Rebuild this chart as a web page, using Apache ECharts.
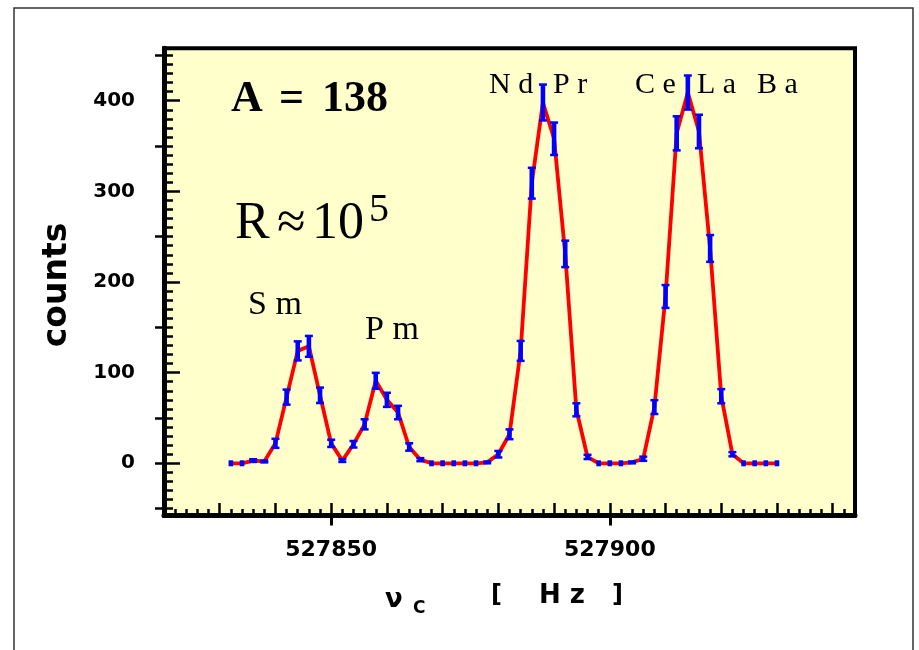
<!DOCTYPE html>
<html>
<head>
<meta charset="utf-8">
<script src="https://cdn.jsdelivr.net/npm/echarts@6/dist/echarts.min.js"></script>
<style>
html, body { margin: 0; padding: 0; background: #fff; }
#chart { width: 919px; height: 650px; }
</style>
</head>
<body>
<div id="chart"></div>
<script>
// scan of the cyclotron frequency, A = 138
const freqHz = [
  527832, 527834, 527836, 527838, 527840, 527842, 527844, 527846, 527848, 527850,
  527852, 527854, 527856, 527858, 527860, 527862, 527864, 527866, 527868, 527870,
  527872, 527874, 527876, 527878, 527880, 527882, 527884, 527886, 527888, 527890,
  527892, 527894, 527896, 527898, 527900, 527902, 527904, 527906, 527908, 527910,
  527912, 527914, 527916, 527918, 527920, 527922, 527924, 527926, 527928, 527930
]
const counts = [
  0, 0, 3, 2, 22, 73, 124, 129, 75, 22,
  3, 21, 43, 91, 70, 56, 18, 4, 0, 0,
  0, 0, 0, 1, 10, 32, 124, 309, 398, 358,
  231, 59, 7, 0, 0, 0, 1, 5, 62, 184,
  364, 409, 366, 237, 74, 10, 0, 0, 0, 0
]
const countErr = [
  0, 0, 1.5, 1, 5, 8.3, 10.5, 11.5, 8.5, 4,
  1.5, 3.6, 5.6, 8.8, 7.8, 7.4, 4.1, 1.7, 0, 0,
  0, 0, 0, 1, 3.6, 5.4, 11, 17, 19.8, 17.9,
  14.6, 7.2, 2.3, 0, 0, 0, 1, 2.3, 7.6, 12.6,
  18.8, 18.8, 18.5, 14.8, 7.8, 2.3, 0, 0, 0, 0
]
const xLabelTicks = [527850, 527900]
const yLabelTicks = [0, 100, 200, 300, 400]
const yOuterTicks = [-50, 0, 50, 150, 250, 350, 450]

const X_MIN = 527820
const X_MAX = 527944
const Y_MIN = -57.6
const Y_MAX = 457.8

function range(a, b, step) {
  const r = []
  for (let v = a; v <= b; v += step) r.push(v)
  return r
}
const xMinorTicks = range(527820, 527942, 2)
const xMidTicks = range(527820, 527940, 10)
const yMinorTicks = range(-50, 450, 10)

const tickLine = { color: '#000', width: 2.5 }
const sansBold = { color: '#000', fontFamily: 'DejaVu Sans', fontWeight: 'bold' }

function xAxisOf(extra) {
  return Object.assign({
    type: 'value', min: X_MIN, max: X_MAX, position: 'bottom',
    splitLine: { show: false },
    axisLine: { show: false, onZero: false },
    axisLabel: { show: false },
    axisTick: { show: false }
  }, extra)
}
function yAxisOf(extra) {
  return Object.assign({
    type: 'value', min: Y_MIN, max: Y_MAX, position: 'left',
    splitLine: { show: false },
    axisLine: { show: false, onZero: false },
    axisLabel: { show: false },
    axisTick: { show: false }
  }, extra)
}

const myChart = echarts.init(document.getElementById('chart'))
const serif = 'Liberation Serif'

const option = {
  animation: false,
  grid: {
    left: 164, right: 64, top: 48.3, bottom: 134.5,
    show: true,
    backgroundColor: '#FFFFCC',
    borderColor: '#000',
    borderWidth: 4
  },
  xAxis: [
    xAxisOf({
      axisLine: { show: true, onZero: false, lineStyle: { color: '#000', width: 5 } },
      axisTick: { show: true, inside: true, length: 6.5, customValues: xMinorTicks, lineStyle: tickLine },
      axisLabel: Object.assign({ show: true, customValues: xLabelTicks, margin: 24, fontSize: 22, formatter: v => String(v) }, sansBold)
    }),
    xAxisOf({ axisTick: { show: true, inside: true, length: 12.5, customValues: xMidTicks, lineStyle: tickLine } }),
    xAxisOf({ axisTick: { show: true, inside: false, length: 10, customValues: xLabelTicks, lineStyle: { color: '#000', width: 3 } } })
  ],
  yAxis: [
    yAxisOf({
      axisLine: { show: true, onZero: false, lineStyle: { color: '#000', width: 5 } },
      axisTick: { show: true, inside: true, length: 9, customValues: yMinorTicks, lineStyle: tickLine },
      axisLabel: Object.assign({ show: true, customValues: yLabelTicks, margin: 29, fontSize: 20 }, sansBold)
    }),
    yAxisOf({ axisTick: { show: true, inside: true, length: 16, customValues: yLabelTicks, lineStyle: tickLine } }),
    yAxisOf({ axisTick: { show: true, inside: false, length: 9, customValues: yOuterTicks, lineStyle: tickLine } })
  ],
  series: [
    {
      type: 'line',
      xAxisIndex: 0, yAxisIndex: 0,
      data: freqHz.map((f, i) => [f, counts[i]]),
      showSymbol: false,
      lineStyle: { color: '#FF0000', width: 3.8 },
      z: 2,
      silent: true
    },
    {
      type: 'custom',
      xAxisIndex: 0, yAxisIndex: 0,
      data: freqHz.map((f, i) => [f, counts[i], countErr[i]]),
      encode: { x: 0, y: 1 },
      z: 3,
      silent: true,
      renderItem: function (params, api) {
        const x = api.value(0)
        const y = api.value(1)
        const e = api.value(2)
        const top = api.coord([x, y + e])
        const bot = api.coord([x, y - e])
        const cx = top[0]
        const blue = { fill: '#0000FF' }
        if (e <= 0) {
          const c = api.coord([x, y])
          return { type: 'rect', shape: { x: cx - 2.3, y: c[1] - 3, width: 4.6, height: 6 }, style: blue }
        }
        return {
          type: 'group',
          children: [
            { type: 'rect', shape: { x: cx - 2.3, y: top[1], width: 4.6, height: bot[1] - top[1] }, style: blue },
            { type: 'rect', shape: { x: cx - 4, y: top[1] - 1.25, width: 8, height: 2.5 }, style: blue },
            { type: 'rect', shape: { x: cx - 4, y: bot[1] - 1.25, width: 8, height: 2.5 }, style: blue }
          ]
        }
      }
    }
  ],
  graphic: [
    { type: 'rect', shape: { x: 14, y: 8, width: 899, height: 700 }, style: { fill: 'none', stroke: '#333', lineWidth: 1.5 }, z: 10 },
    // big annotations
    { type: 'text', x: 231, y: 100, style: { text: 'A', font: 'bold 44px ' + serif, fill: '#000', align: 'left', verticalAlign: 'middle' } },
    { type: 'text', x: 279, y: 100, style: { text: '=', font: 'bold 44px ' + serif, fill: '#000', align: 'left', verticalAlign: 'middle' } },
    { type: 'text', x: 322, y: 100, style: { text: '138', font: 'bold 44px ' + serif, fill: '#000', align: 'left', verticalAlign: 'middle' } },
    { type: 'text', x: 235, y: 224, style: { text: 'R', font: '52px ' + serif, fill: '#000', align: 'left', verticalAlign: 'middle' } },
    { type: 'text', x: 277, y: 224, style: { text: '≈', font: '52px ' + serif, fill: '#000', align: 'left', verticalAlign: 'middle' } },
    { type: 'text', x: 312, y: 224, style: { text: '10', font: '52px ' + serif, fill: '#000', align: 'left', verticalAlign: 'middle' } },
    { type: 'text', x: 369, y: 210, style: { text: '5', font: '40px ' + serif, fill: '#000', align: 'left', verticalAlign: 'middle' } },
    // peak names
    { type: 'text', x: 248, y: 305, style: { text: 'S m', font: '34px ' + serif, fill: '#000', align: 'left', verticalAlign: 'middle' } },
    { type: 'text', x: 365, y: 330, style: { text: 'P m', font: '34px ' + serif, fill: '#000', align: 'left', verticalAlign: 'middle' } },
    { type: 'text', x: 489, y: 85, style: { text: 'N d', font: '30px ' + serif, fill: '#000', align: 'left', verticalAlign: 'middle' } },
    { type: 'text', x: 553, y: 85, style: { text: 'P r', font: '30px ' + serif, fill: '#000', align: 'left', verticalAlign: 'middle' } },
    { type: 'text', x: 635, y: 85, style: { text: 'C e', font: '30px ' + serif, fill: '#000', align: 'left', verticalAlign: 'middle' } },
    { type: 'text', x: 697, y: 85, style: { text: 'L a', font: '30px ' + serif, fill: '#000', align: 'left', verticalAlign: 'middle' } },
    { type: 'text', x: 757, y: 85, style: { text: 'B a', font: '30px ' + serif, fill: '#000', align: 'left', verticalAlign: 'middle' } },
    // axis titles
    { type: 'text', x: 57, y: 285, rotation: Math.PI / 2, style: { text: 'counts', font: 'bold 33px "DejaVu Sans"', fill: '#000', align: 'center', verticalAlign: 'middle' } },
    { type: 'text', x: 385, y: 600, style: { text: 'ν', font: 'bold 26px "DejaVu Sans"', fill: '#000', align: 'left', verticalAlign: 'middle' } },
    { type: 'text', x: 413, y: 609, style: { text: 'C', font: 'bold 17px "DejaVu Sans"', fill: '#000', align: 'left', verticalAlign: 'middle' } },
    { type: 'text', x: 491, y: 596, style: { text: '[', font: 'bold 24px "DejaVu Sans"', fill: '#000', align: 'left', verticalAlign: 'middle' } },
    { type: 'text', x: 562, y: 596, style: { text: 'H z', font: 'bold 26px "DejaVu Sans"', fill: '#000', align: 'center', verticalAlign: 'middle' } },
    { type: 'text', x: 612, y: 596, style: { text: ']', font: 'bold 24px "DejaVu Sans"', fill: '#000', align: 'left', verticalAlign: 'middle' } }
  ]
}
myChart.setOption(option)
window.addEventListener('resize', () => {
  myChart.resize()
})
</script>
</body>
</html>
